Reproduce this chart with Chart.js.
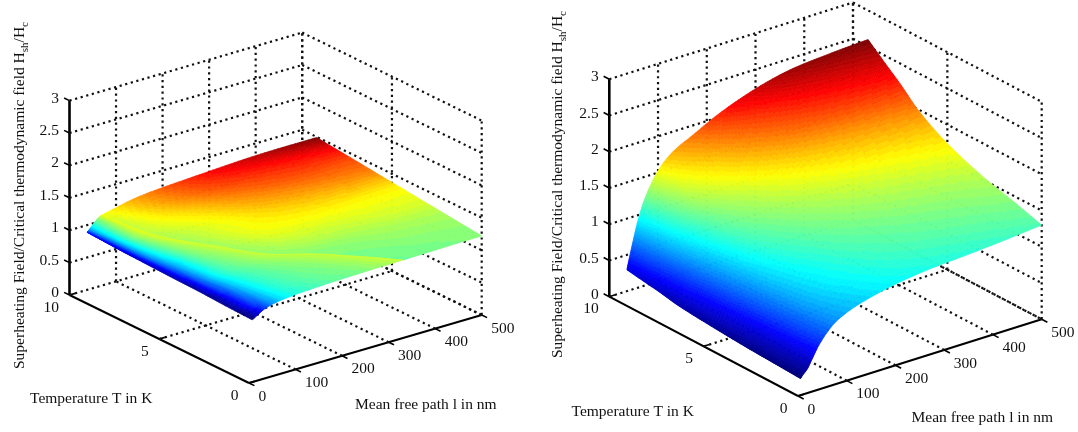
<!DOCTYPE html>
<html><head><meta charset="utf-8">
<style>html,body{margin:0;padding:0;background:#fff;overflow:hidden}canvas{position:absolute;top:0}</style>
<script src="https://cdn.jsdelivr.net/npm/chart.js@4/dist/chart.umd.min.js"></script>
</head><body>
<canvas id="left" width="540" height="432" style="left:0"></canvas>
<canvas id="right" width="538" height="432" style="left:540px"></canvas>
<script>
const pathTicks=[0,100,200,300,400,500];
const tempTicks=[0,5,10];
const fieldTicks=[0,0.5,1,1.5,2,2.5,3];
const fieldTickLabels=['0','0.5','1','1.5','2','2.5','3'];
const fieldTitle=['Superheating Field/Critical thermodynamic field H','sh','/H','c'];
const tempTitle='Temperature T in K';
const pathTitle='Mean free path l in nm';

/* left surface: T rows, l nodes per row (columns 5 and 6 meet on the crease) */
const leftTemps=[0,1.15,2.3,3,4.5,6,7.15,8.2,9.2];
const leftPaths=[
[7,40,90,170,250,331,331,380,420,460,500],
[7,35,77,145,215,280,280,340,390,445,500],
[7,30,62,115,170,220,220,290,350,420,500],
[7,25,50,88,130,167,167,250,330,410,500],
[7,20,38,65,92,118,118,200,290,390,500],
[7,14,25,42,58,73,73,160,260,380,500],
[7,12,18,30,41,51,51,140,250,370,500],
[7,11,16,26,36,44,44,130,240,370,500],
[7,10,15,23,31,38,38,120,240,370,500]];
const leftField=[
[.96,1.09,1.15,1.18,1.195,1.205,1.205,1.21,1.215,1.22,1.22],
[.97,1.09,1.15,1.18,1.20,1.21,1.21,1.225,1.235,1.245,1.254],
[.985,1.09,1.15,1.18,1.20,1.22,1.22,1.24,1.255,1.27,1.287],
[.995,1.09,1.15,1.185,1.205,1.225,1.225,1.255,1.275,1.295,1.308],
[1.005,1.09,1.15,1.19,1.215,1.235,1.235,1.28,1.31,1.335,1.352],
[1.02,1.08,1.13,1.19,1.22,1.245,1.245,1.31,1.35,1.38,1.396],
[1.03,1.08,1.13,1.18,1.22,1.25,1.25,1.34,1.38,1.415,1.43],
[1.045,1.08,1.12,1.18,1.23,1.255,1.255,1.36,1.41,1.45,1.46],
[1.06,1.08,1.12,1.18,1.23,1.26,1.26,1.38,1.44,1.485,1.49]];
const leftShade=[
[0,.22,.39,.46,.50,.57,.48,.49,.49,.50,.50],
[.01,.23,.39,.47,.51,.57,.49,.50,.51,.515,.52],
[.02,.24,.39,.47,.52,.57,.51,.52,.535,.545,.55],
[.03,.24,.39,.47,.52,.57,.52,.55,.56,.575,.58],
[.05,.25,.38,.48,.53,.58,.53,.60,.62,.63,.63],
[.07,.25,.37,.48,.54,.59,.54,.61,.68,.72,.74],
[.09,.25,.37,.48,.55,.60,.56,.65,.74,.79,.80],
[.12,.25,.36,.47,.55,.61,.57,.70,.80,.85,.88],
[.15,.25,.35,.45,.53,.62,.60,.73,.85,.94,1]];

/* right surface */
const rightTemps=[0,1.5,3,5,6.5,7.5,8.5,9.2];
const rightPathNodes=[5,10,20,30,45,70,100,140,200,270,340,420,500];
const rightField=[
[.23,.27,.34,.46,.63,.82,.94,1.03,1.12,1.18,1.21,1.25,1.30],
[.25,.30,.39,.52,.70,.90,1.03,1.12,1.22,1.29,1.33,1.37,1.42],
[.27,.33,.44,.58,.77,.98,1.11,1.21,1.32,1.39,1.44,1.48,1.53],
[.31,.39,.53,.69,.90,1.12,1.27,1.38,1.49,1.58,1.64,1.69,1.74],
[.35,.45,.63,.81,1.03,1.27,1.43,1.55,1.69,1.80,1.87,1.93,1.98],
[.40,.51,.72,.93,1.17,1.43,1.59,1.72,1.88,2.02,2.11,2.17,2.22],
[.44,.57,.82,1.05,1.31,1.59,1.77,1.90,2.08,2.23,2.33,2.39,2.44],
[.47,.62,.90,1.15,1.42,1.71,1.90,2.04,2.24,2.41,2.52,2.57,2.60]];
const rightFieldMin=.23, rightFieldMax=2.60;
const rightPaths=rightTemps.map(()=>rightPathNodes);
const rightShade=rightField.map(r=>r.map(v=>(v-rightFieldMin)/(rightFieldMax-rightFieldMin)));

function jet(v){
  v=Math.min(63,Math.floor(Math.max(0,Math.min(1,v))*64))/63;
  const c=t=>Math.round(255*Math.max(0,Math.min(1,1.5-Math.abs(4*v-t))));
  return `rgb(${c(3)},${c(2)},${c(1)})`;
}
/* smooth shading weights between neighbouring surface nodes */
function hermite(t,a,b){const t2=t*t,t3=t2*t;
  const h00=2*t3-3*t2+1,h10=t3-2*t2+t,h01=-2*t3+3*t2,h11=t3-t2;
  return [-h10*a,h00-h11*b,h01+h10*a,h11*b];}

const FONT='15.5px "Liberation Serif"', SUB='11px "Liberation Serif"', INK='#111';

function panel(id,view){
  const P=(l,T,z)=>({x:view.O[0]+l/500*(view.C[0]-view.O[0])+T/10*(view.A[0]-view.O[0]),
                     y:view.O[1]+l/500*(view.C[1]-view.O[1])+T/10*(view.A[1]-view.O[1])-z*view.unit});
  const sets=[];
  view.temps.forEach((T,i)=>sets.push({label:'T='+T,
    data:view.paths[i].map((l,j)=>{const p=P(l,T,view.field[i][j]);return {x:p.x,y:p.y,shade:view.shade[i][j]};}),
    showLine:false,pointRadius:0,pointHoverRadius:0}));
  const seg=(a,b,solid,w)=>sets.push({data:[P(...a),P(...b)],showLine:true,pointRadius:0,
    borderColor:solid?'#000':'#111',borderWidth:w||2.2,borderDash:solid?[]:[2.2,3.6],borderCapStyle:'butt',tension:0});
  fieldTicks.forEach(z=>{seg([0,10,z],[500,10,z]);seg([500,10,z],[500,0,z]);});
  pathTicks.slice(1).forEach(l=>{seg([l,10,0],[l,10,3]);seg([l,0,0],[l,10,0]);});
  tempTicks.forEach(T=>seg([500,T,0],[500,T,3]));
  seg([0,5,0],[500,5,0]);
  seg([0,10,0],[0,10,3],true,2.6);
  seg([0,0,0],[0,10,0],true,2);
  seg([0,0,0],[500,0,0],true,2);
  fieldTicks.forEach(z=>seg([0,10,z],[0,10.3,z],true,1.6));
  pathTicks.forEach(l=>seg([l,0,0],[l,-.3,0],true,1.6));
  tempTicks.forEach(T=>seg([0,T,0],[12,T,0],true,1.6));

  const surfacePlugin={id:'surface',afterDatasetsDraw(chart){
    const c=chart.ctx; const rows=view.temps.length, S=14, Ts=view.temps;
    const metas=view.temps.map((_,i)=>chart.getDatasetMeta(i).data);
    const node=(i,j)=>{const e=metas[i][j];return [e.x,e.y,chart.data.datasets[i].data[j].shade];};
    c.save(); c.lineWidth=.7; c.lineJoin='round';
    const patches=view.patches.slice().reverse();
    const cl=(v,a,b)=>Math.max(a,Math.min(b,v));
    const at=(i,j,u,v,lo,hi)=>{
      const h=Ts[i+1]-Ts[i];
      const wv=hermite(v,h/(Ts[i+1]-Ts[cl(i-1,0,rows-1)]),h/(Ts[cl(i+2,0,rows-1)]-Ts[i]));
      const wu=hermite(u,.5*(j>lo?1:2),.5*(j+2<=hi?1:2));
      const out=[0,0,0];
      for(let a=0;a<4;a++)for(let b=0;b<4;b++){
        const n=node(cl(i-1+a,0,rows-1),cl(j-1+b,lo,hi)),w=wv[a]*wu[b];
        out[0]+=w*n[0];out[1]+=w*n[1];out[2]+=w*n[2];
      }
      return out;
    };
    for(let i=rows-2;i>=0;i--) for(const [lo,hi] of patches) for(let j=hi-1;j>=lo;j--){
      const g=[];
      for(let m=0;m<=S;m++){g[m]=[];for(let n=0;n<=S;n++)g[m][n]=at(i,j,n/S,m/S,lo,hi);}
      for(let m=S-1;m>=0;m--) for(let n=S-1;n>=0;n--){
        const q=[g[m][n],g[m][n+1],g[m+1][n+1],g[m+1][n]];
        const col=jet((q[0][2]+q[1][2]+q[2][2]+q[3][2])/4);
        c.beginPath();c.moveTo(q[0][0],q[0][1]);for(let k=1;k<4;k++)c.lineTo(q[k][0],q[k][1]);c.closePath();
        c.fillStyle=col;c.strokeStyle=col;c.fill();c.stroke();
      }
    }
    c.restore();
  }};
  const labelPlugin={id:'labels',afterDraw(chart){
    const c=chart.ctx,xs=chart.scales.x,ys=chart.scales.y;
    const px=(p)=>[xs.getPixelForValue(p.x),ys.getPixelForValue(p.y)];
    c.save();c.fillStyle=INK;c.font=FONT;c.textBaseline='middle';
    c.textAlign='right';
    fieldTicks.forEach((z,i)=>{const [x,y]=px(P(0,10,z));c.fillText(fieldTickLabels[i],x-10.6,y-2);});
    tempTicks.forEach(T=>{const [x,y]=px(P(0,T,0));c.fillText(String(T),x-10.6,y+12.5);});
    c.textAlign='left';
    pathTicks.forEach(l=>{const [x,y]=px(P(l,0,0));c.fillText(String(l),x+9.5,y+13.6);});
    c.textBaseline='alphabetic';
    const shift=view.shiftX;
    c.fillText(tempTitle,view.tempTitle[0]-shift,view.tempTitle[1]);
    c.fillText(pathTitle,view.pathTitle[0]-shift,view.pathTitle[1]);
    c.translate(view.fieldTitle[0]-shift,view.fieldTitle[1]);c.rotate(-Math.PI/2);
    let x=0;
    fieldTitle.forEach((t,i)=>{const sub=i%2===1;c.font=sub?SUB:FONT;c.fillText(t,x,sub?4.5:0);x+=c.measureText(t).width;});
    c.restore();
  }};
  return new Chart(document.getElementById(id),{type:'scatter',data:{datasets:sets},plugins:[surfacePlugin,labelPlugin],
    options:{responsive:false,animation:false,devicePixelRatio:1,events:[],layout:{padding:0},
      plugins:{legend:{display:false},tooltip:{enabled:false},title:{display:false}},
      elements:{line:{fill:false}},
      scales:{x:{type:'linear',display:false,min:view.range[0],max:view.range[1]},
              y:{type:'linear',display:false,min:0,max:432,reverse:true}}}});
}
panel('left',{O:[249,383],A:[69.5,295],C:[481.7,315],unit:64.8,range:[0,540],shiftX:0,
  temps:leftTemps,paths:leftPaths,field:leftField,shade:leftShade,patches:[[0,5],[6,10]],
  tempTitle:[30,403],pathTitle:[355,409],fieldTitle:[23.5,369]});
panel('right',{O:[798,396],A:[609.3,296.7],C:[1041.7,319.3],unit:72.5,range:[540,1078],shiftX:540,
  temps:rightTemps,paths:rightPaths,field:rightField,shade:rightShade,patches:[[0,12]],
  tempTitle:[571.5,416],pathTitle:[911.5,422],fieldTitle:[561.5,358]});
</script></body></html>
